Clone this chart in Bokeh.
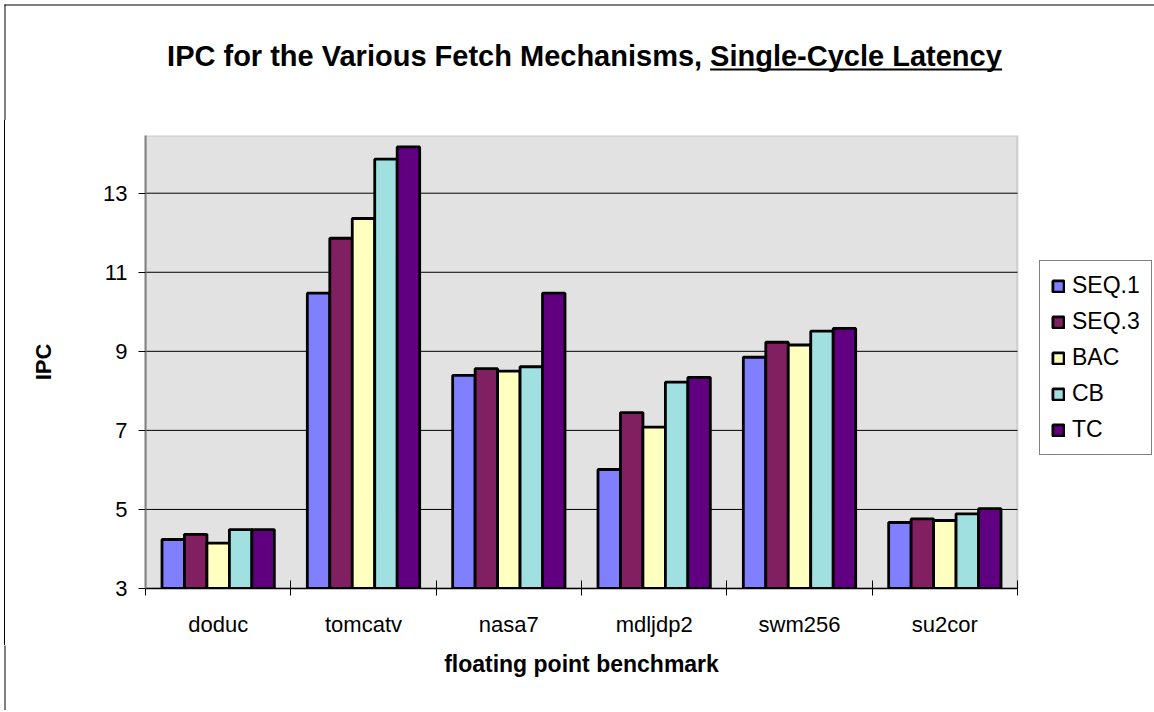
from bokeh.plotting import figure
from bokeh.layouts import column, row
from bokeh.models import (Range1d, FixedTicker, Legend, LegendItem,
                          BoxAnnotation, Spacer)
from bokeh.embed import file_html
from bokeh.resources import INLINE
from bokeh.core.properties import value

# ---------------- data ----------------
benchmarks = ["doduc", "tomcatv", "nasa7", "mdljdp2", "swm256", "su2cor"]
series_names = ["SEQ.1", "SEQ.3", "BAC", "CB", "TC"]
seq1 = [4.24, 10.47, 8.39, 6.01, 8.85, 4.67]
seq3 = [4.37, 11.86, 8.56, 7.45, 9.23, 4.76]
bac = [4.15, 12.36, 8.50, 7.08, 9.16, 4.72]
cb = [4.49, 13.86, 8.61, 8.22, 9.51, 4.89]
tc = [4.49, 14.17, 10.47, 8.34, 9.58, 5.02]
y_ticks = [3, 5, 7, 9, 11, 13]
y_min, y_max = 3, 14.46
colors = ["#8080FF", "#802060", "#FFFFC0", "#A0E0E0", "#600080"]

title_plain = "IPC for the Various Fetch Mechanisms,"
title_under = "Single-Cycle Latency"
x_title = "floating point benchmark"
y_title = "IPC"

FONT = "Liberation Sans"
PAGE_W = 1154
TITLE_H = 120
MAIN_H = 525
BOTTOM_H = 65
LEFT_PAD = 5


def strip(width, height):
    """Plain drawing strip (pixel coordinates, y downwards), no axes."""
    f = figure(width=width, height=height, output_backend="svg",
               toolbar_location=None, tools="",
               x_range=Range1d(0, width), y_range=Range1d(height, 0),
               x_axis_type=None, y_axis_type=None,
               min_border_left=0, min_border_right=0,
               min_border_top=0, min_border_bottom=0)
    f.outline_line_color = None
    f.background_fill_color = "white"
    f.border_fill_color = "white"
    return f


# ---------------- title strip ----------------
tf = strip(PAGE_W, TITLE_H)
tf.segment(x0=[4, 4.5], y0=[4.5, 4], x1=[PAGE_W + 5, 4.5], y1=[4.5, TITLE_H + 2],
           line_color="black", line_width=1)
split_x = 701.6
tf.text(x=[split_x], y=[55], text=[title_plain], text_align="right",
        text_baseline="alphabetic", text_font=value(FONT),
        text_font_style="bold", text_font_size="29px", text_color="black")
tf.text(x=[split_x + 8], y=[55], text=[title_under], text_align="left",
        text_baseline="alphabetic", text_font=value(FONT),
        text_font_style="bold", text_font_size="29px", text_color="black")
tf.quad(left=[split_x + 8], right=[split_x + 8 + 292], top=[68], bottom=[70],
        fill_color="black", line_color=None)

# ---------------- main chart ----------------
MAIN_W = PAGE_W - LEFT_PAD
BORDER_L = 140           # frame starts at page x = 145
PLOT_W = 872             # width of the grey plot area
FRAME_W = MAIN_W - BORDER_L - 2
ncat = len(benchmarks)
x_end = ncat * FRAME_W / PLOT_W   # extra room on the right for the legend

p = figure(width=MAIN_W, height=MAIN_H, output_backend="svg",
           toolbar_location=None, tools="",
           x_range=Range1d(0, x_end), y_range=Range1d(y_min, y_max),
           min_border_left=BORDER_L, min_border_right=2,
           min_border_top=15, min_border_bottom=57)
p.background_fill_color = "white"
p.border_fill_color = "white"
p.outline_line_color = None

plot_area = BoxAnnotation(left=0, right=ncat, bottom=y_min, top=y_max,
                          fill_color="#E2E2E2", fill_alpha=1,
                          line_color="#808080", line_width=2, level="underlay")
p.add_layout(plot_area)

p.xgrid.grid_line_color = None
p.ygrid.grid_line_color = None
grid_vals = [t for t in y_ticks if t > y_min]
p.segment(x0=[0] * len(grid_vals), x1=[ncat] * len(grid_vals),
          y0=grid_vals, y1=grid_vals, line_color="black", line_width=1)

n = len(series_names)
bw = 0.1546
all_series = [seq1, seq3, bac, cb, tc]
renderers = []
for j, (vals, col) in enumerate(zip(all_series, colors)):
    xs = [i + 0.5 + (j - (n - 1) / 2) * bw for i in range(ncat)]
    r = p.vbar(x=xs, top=vals, bottom=y_min, width=bw, fill_color=col,
               line_color="black", line_width=2.8)
    renderers.append(r)

# y axis
yax = p.yaxis[0]
yax.ticker = FixedTicker(ticks=y_ticks, minor_ticks=[])
yax.axis_line_color = "#808080"
yax.axis_line_width = 2
yax.major_tick_line_color = "black"
yax.major_tick_in = 0
yax.major_tick_out = 7
yax.major_label_standoff = 11
yax.major_label_text_font = FONT
yax.major_label_text_font_size = "22px"
yax.major_label_text_color = "black"
yax.axis_label = y_title
yax.axis_label_text_font = FONT
yax.axis_label_text_font_style = "bold"
yax.axis_label_text_font_size = "22px"
yax.axis_label_text_color = "black"
yax.axis_label_standoff = 44

# x axis
xax = p.xaxis[0]
centers = [i + 0.5 for i in range(ncat)]
xax.ticker = FixedTicker(ticks=centers, minor_ticks=list(range(ncat + 1)))
xax.bounds = (0, ncat)
xax.major_label_overrides = {c: b for c, b in zip(centers, benchmarks)}
xax.major_tick_line_color = None
xax.major_tick_in = 0
xax.major_tick_out = 0
xax.minor_tick_line_color = "black"
xax.minor_tick_in = 8
xax.minor_tick_out = 7
xax.axis_line_color = "black"
xax.axis_line_width = 1.5
xax.major_label_standoff = 16
xax.major_label_text_font = FONT
xax.major_label_text_font_size = "22px"
xax.major_label_text_color = "black"

# legend, inside the (extended) frame to the right of the plot area
legend = Legend(items=[LegendItem(label=s, renderers=[r])
                       for s, r in zip(series_names, renderers)],
                location=(894, 133))
legend.border_line_color = "black"
legend.border_line_width = 1
legend.background_fill_color = "white"
legend.background_fill_alpha = 1
legend.padding = 11
legend.margin = 0
legend.spacing = 9
legend.label_height = 22
legend.glyph_height = 14
legend.glyph_width = 14
legend.label_standoff = 7
legend.label_text_font = FONT
legend.label_text_font_size = "23px"
legend.label_text_color = "black"
legend.label_text_baseline = "middle"
p.add_layout(legend, "center")

left_pad = Spacer(width=LEFT_PAD - 1, height=MAIN_H)
left_rule = Spacer(width=1, height=MAIN_H, styles={"background-color": "black"})

# ---------------- bottom strip (x axis title) ----------------
bf = strip(PAGE_W, BOTTOM_H)
bf.segment(x0=[4.5], y0=[-2], x1=[4.5], y1=[BOTTOM_H + 2],
           line_color="black", line_width=1)
plot_center_x = LEFT_PAD + BORDER_L + PLOT_W / 2
bf.text(x=[plot_center_x], y=[18], text=[x_title], text_align="center",
        text_baseline="middle", text_font=value(FONT), text_font_style="bold",
        text_font_size="23px", text_color="black")

layout = column(tf, row(left_pad, left_rule, p), bf)

open("out.html", "w").write(file_html(layout, INLINE))
